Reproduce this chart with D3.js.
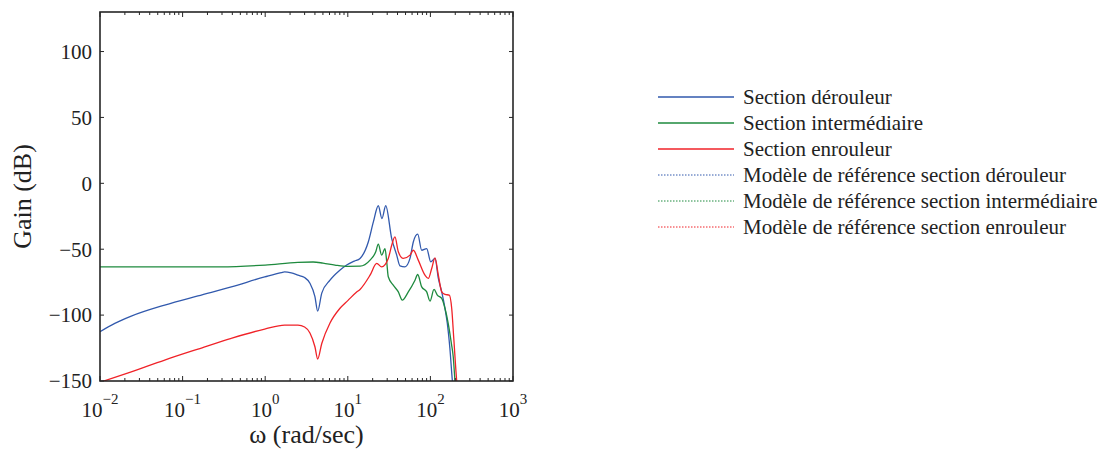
<!DOCTYPE html>
<html>
<head>
<meta charset="UTF-8">
<title>Gain</title>
<script src="https://d3js.org/d3.v7.min.js"></script>
<style>
  body { margin: 0; background: #fff; }
  text { font-family: "Liberation Serif", "Times New Roman", serif; fill: #222; }
  .frame line, .frame rect { stroke: #262626; }
</style>
</head>
<body>
<div id="chart"></div>
<script>
// data (omega in rad/s, gain in dB)
var wDeroul = [0.01, 0.0151, 0.0239, 0.0607, 0.1535, 0.389, 0.986, 1.567, 1.72, 2.07, 2.49, 3.0, 3.48, 4.0, 4.32, 4.84, 6.09, 8, 9.7, 12, 14.06, 17.7, 20.4, 23.4, 25.9, 28.8, 34.0, 39.1, 42.8, 49.2, 56.6, 62.1, 70.2, 78.5, 90.2, 100.9, 113.7, 124.8, 137.1, 150.3, 160, 172, 184, 195];
var gDeroul = [-112.6, -106.3, -100.8, -92.4, -85.4, -78.6, -71, -67.7, -67.2, -68, -69.7, -71.5, -75.8, -86, -97, -83.3, -73.5, -66, -62, -59, -57, -44.5, -29.3, -17, -26.7, -17, -41.9, -54.5, -62.6, -63.4, -57, -44.5, -38.6, -50.8, -49.5, -59.6, -57, -72.2, -82.4, -95, -106, -125, -149, -165];

var wInter = [0.01, 0.29, 1.0, 2.49, 3.8, 5, 7, 10, 14.06, 18.6, 21.8, 23.4, 25.7, 28.2, 29.6, 30.9, 35.5, 40.9, 45.6, 54.0, 65.1, 70.2, 78.5, 90.2, 98.9, 110.6, 121.3, 137.1, 150.3, 164, 180, 189, 198, 210];
var gInter = [-63.4, -63.4, -62, -60, -59.7, -60.5, -62, -63, -62.9, -58.3, -52, -46.2, -54.5, -49.5, -59.6, -70.9, -77.3, -82.4, -88.6, -82.4, -73.5, -69.2, -78.6, -82.4, -89.4, -80.5, -84.8, -87.3, -95, -106, -122, -131.6, -149, -165];

var wEnroul = [0.01, 0.0239, 0.0607, 0.1535, 0.389, 0.986, 1.72, 2.49, 3.0, 3.48, 4.0, 4.32, 4.84, 6.09, 8, 10, 12.8, 14.06, 18.6, 22.4, 25.7, 30.9, 34.0, 37.2, 40.9, 46.9, 56.6, 62.1, 71.3, 86.0, 94.4, 103.7, 113.7, 124.8, 137.1, 150.3, 169.4, 181.2, 192, 207.6, 220];
var gEnroul = [-151, -143, -134.1, -125.8, -117.6, -110.6, -107.6, -107.6, -109, -113.6, -124, -133.3, -121.5, -106, -95, -89, -82.5, -80.5, -69.7, -60.8, -63.4, -57, -47, -40.7, -52, -57, -54.5, -50.8, -58.3, -69.7, -72.2, -64.6, -56.6, -69.7, -82.4, -84.3, -84.8, -95, -118, -149, -165];

var legendLabels = ["Section dérouleur", "Section intermédiaire", "Section enrouleur",
  "Modèle de référence section dérouleur", "Modèle de référence section intermédiaire",
  "Modèle de référence section enrouleur"];
var colors = ["#3159ad", "#1e8a3e", "#f02228"];
var yTicks = [-150, -100, -50, 0, 50, 100];
var xDecades = [-2, -1, 0, 1, 2, 3];

var W = 1106, H = 453;
var pLeft = 100, pRight = 513, pTop = 12, pBottom = 381;

var svg = d3.select("#chart").append("svg")
    .attr("width", W).attr("height", H);

var x = d3.scaleLog().domain([0.01, 1000]).range([pLeft, pRight]);
var y = d3.scaleLinear().domain([-150, 130]).range([pBottom, pTop]);

svg.append("clipPath").attr("id", "clip")
  .append("rect").attr("x", pLeft).attr("y", pTop)
  .attr("width", pRight - pLeft).attr("height", pBottom - pTop);

var line = d3.line()
    .x(function(d) { return x(d[0]); })
    .y(function(d) { return y(d[1]); })
    .curve(d3.curveMonotoneX);

var series = [[wDeroul, gDeroul], [wInter, gInter], [wEnroul, gEnroul]];
var plot = svg.append("g").attr("clip-path", "url(#clip)");
series.forEach(function(s, i) {
  plot.append("path")
    .datum(d3.zip(s[0], s[1]))
    .attr("d", line)
    .attr("fill", "none")
    .attr("stroke", colors[i])
    .attr("stroke-width", 1.3);
});

// frame and inward ticks
var frame = svg.append("g").attr("class", "frame");
frame.append("rect")
  .attr("x", pLeft).attr("y", pTop)
  .attr("width", pRight - pLeft).attr("height", pBottom - pTop)
  .attr("fill", "none").attr("stroke-width", 1.6);

x.ticks().forEach(function(t) {
  var major = Math.abs(Math.log10(t) - Math.round(Math.log10(t))) < 1e-9;
  var len = major ? 5 : 3;
  frame.append("line").attr("x1", x(t)).attr("x2", x(t))
    .attr("y1", pBottom).attr("y2", pBottom - len).attr("stroke-width", 1);
  frame.append("line").attr("x1", x(t)).attr("x2", x(t))
    .attr("y1", pTop).attr("y2", pTop + len).attr("stroke-width", 1);
});
yTicks.forEach(function(t) {
  frame.append("line").attr("x1", pLeft).attr("x2", pLeft + 4)
    .attr("y1", y(t)).attr("y2", y(t)).attr("stroke-width", 1);
  frame.append("line").attr("x1", pRight).attr("x2", pRight - 4)
    .attr("y1", y(t)).attr("y2", y(t)).attr("stroke-width", 1);
});

// tick labels
svg.selectAll(".ylab").data(yTicks).enter().append("text")
  .attr("x", pLeft - 8).attr("y", function(d) { return y(d); })
  .attr("dy", "0.35em")
  .attr("text-anchor", "end")
  .style("font-size", "21px")
  .text(function(d) { return d < 0 ? "\u2212" + Math.abs(d) : d; });

xDecades.forEach(function(e) {
  var t = svg.append("text")
    .attr("x", x(Math.pow(10, e))).attr("y", 417)
    .attr("text-anchor", "middle")
    .style("font-size", "21px");
  t.append("tspan").text("10");
  t.append("tspan").attr("dy", -13).style("font-size", "15px")
    .text(e < 0 ? "\u2212" + Math.abs(e) : e);
});

// axis titles
svg.append("text")
  .attr("x", (pLeft + pRight) / 2).attr("y", 443)
  .attr("text-anchor", "middle")
  .style("font-size", "26px")
  .text("\u03c9 (rad/sec)");

svg.append("text")
  .attr("transform", "translate(31," + ((pTop + pBottom) / 2) + ") rotate(-90)")
  .attr("text-anchor", "middle")
  .style("font-size", "26px")
  .text("Gain (dB)");

// legend
var legend = svg.append("g").attr("transform", "translate(658,97)");
legendLabels.forEach(function(lab, i) {
  var row = legend.append("g").attr("transform", "translate(0," + (i * 26) + ")");
  row.append("line").attr("x1", 0).attr("x2", 76)
    .attr("stroke", colors[i % 3])
    .attr("stroke-width", i < 3 ? 1.3 : 1)
    .attr("stroke-dasharray", i < 3 ? null : "1.5,1.5");
  row.append("text").attr("x", 85).attr("dy", "0.35em")
    .style("font-size", "21px")
    .text(lab);
});
</script>
</body>
</html>
